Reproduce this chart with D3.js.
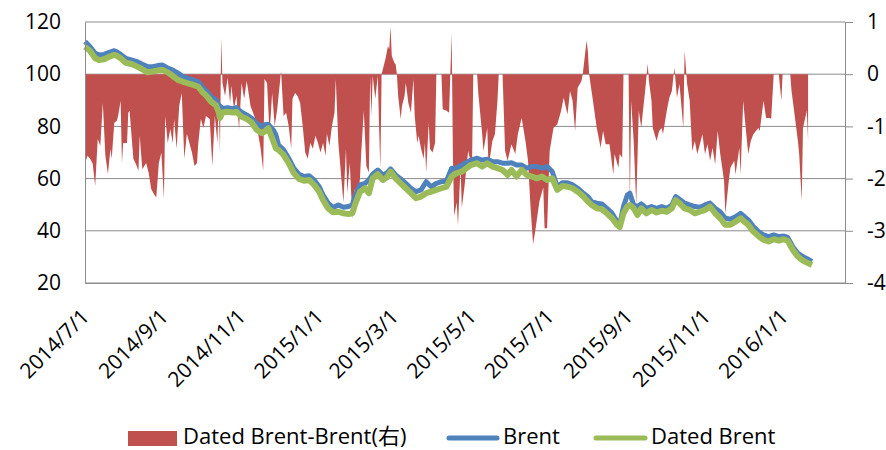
<!DOCTYPE html>
<html>
<head>
<meta charset="utf-8">
<script src="https://cdn.jsdelivr.net/npm/d3@7"></script>
<style>
  body { margin: 0; background: #fff; }
  text { font-family: "Open Sans", "Noto Sans CJK SC", sans-serif; fill: #000; }
</style>
</head>
<body>
<svg></svg>
<script>
// ================================ DATA ================================
var lineDates = [
  "2014-07-01","2014-07-05","2014-07-09","2014-07-12","2014-07-16","2014-07-20","2014-07-24","2014-07-26","2014-07-29",
  "2014-08-02","2014-08-07","2014-08-11","2014-08-15","2014-08-19","2014-08-23","2014-08-27","2014-08-31",
  "2014-09-04","2014-09-08","2014-09-12","2014-09-16","2014-09-20","2014-09-24","2014-09-28",
  "2014-10-01","2014-10-05","2014-10-08","2014-10-12","2014-10-14","2014-10-15","2014-10-17","2014-10-21","2014-10-25","2014-10-28",
  "2014-11-01","2014-11-05","2014-11-09","2014-11-13","2014-11-17","2014-11-19","2014-11-22","2014-11-26","2014-11-28","2014-11-30",
  "2014-12-04","2014-12-08","2014-12-12","2014-12-16","2014-12-20","2014-12-24","2014-12-28",
  "2015-01-01","2015-01-04","2015-01-08","2015-01-12","2015-01-16","2015-01-20","2015-01-24","2015-01-27","2015-01-29",
  "2015-02-02","2015-02-06","2015-02-09","2015-02-12","2015-02-16","2015-02-20","2015-02-23","2015-02-26",
  "2015-03-02","2015-03-06","2015-03-10","2015-03-14","2015-03-18","2015-03-22","2015-03-26","2015-03-30",
  "2015-04-03","2015-04-07","2015-04-11","2015-04-15","2015-04-19","2015-04-23","2015-04-30",
  "2015-05-05","2015-05-09","2015-05-13","2015-05-17","2015-05-21","2015-05-25","2015-05-29",
  "2015-06-01","2015-06-05","2015-06-09","2015-06-13","2015-06-17","2015-06-21","2015-06-25","2015-06-29",
  "2015-07-03","2015-07-07","2015-07-11","2015-07-15","2015-07-19","2015-07-23","2015-07-27","2015-07-31",
  "2015-08-03","2015-08-07","2015-08-11","2015-08-15","2015-08-19","2015-08-23","2015-08-25","2015-08-28","2015-08-31",
  "2015-09-02","2015-09-05","2015-09-08","2015-09-11","2015-09-15","2015-09-19","2015-09-23","2015-09-27",
  "2015-10-01","2015-10-05","2015-10-08","2015-10-11","2015-10-15","2015-10-19","2015-10-23","2015-10-27","2015-10-31",
  "2015-11-04","2015-11-08","2015-11-12","2015-11-16","2015-11-20","2015-11-24","2015-11-28",
  "2015-12-01","2015-12-04","2015-12-08","2015-12-12","2015-12-16","2015-12-20","2015-12-24","2015-12-28",
  "2016-01-01","2016-01-04","2016-01-08","2016-01-12","2016-01-16","2016-01-20","2016-01-23"
];

var brent = [
  112.5,110.5,108.0,107.4,107.6,108.4,109.0,108.6,107.6,
  106.1,105.4,104.8,103.8,102.9,102.9,103.3,103.5,
  102.3,101.6,100.4,99.1,98.4,97.8,97.1,
  95.2,93.3,91.4,90.1,88.2,87.8,86.9,87.2,86.7,87.2,
  85.4,84.4,83.1,81.2,79.9,80.6,80.8,78.6,76.7,72.9,
  71.0,67.8,64.0,61.7,60.8,61.1,59.5,
  56.9,53.7,50.6,48.9,49.9,49.0,49.3,49.9,53.1,
  57.6,58.2,59.5,61.7,63.3,61.4,62.1,63.7,
  61.4,59.9,58.2,56.3,55.0,55.7,58.8,56.9,
  58.2,58.8,59.1,64.0,64.0,65.2,67.1,
  67.8,67.1,67.4,66.5,66.5,65.9,65.9,
  66.1,65.2,65.2,64.0,64.6,64.6,64.0,64.6,
  62.7,56.9,58.4,58.4,57.6,56.3,54.6,53.1,
  51.2,50.6,50.3,48.6,46.7,43.5,42.3,49.3,53.7,
  54.4,49.9,49.3,50.3,48.6,49.3,48.6,49.3,
  48.6,49.9,53.1,52.1,50.6,49.9,49.3,49.0,49.9,
  50.6,48.6,47.3,44.8,44.4,45.4,46.7,
  45.4,44.2,41.6,39.7,38.4,37.8,38.4,37.8,
  38.0,37.5,33.9,31.4,30.1,29.1,28.2
];

var datedBrent = [
  110.5,108.9,106.1,105.4,105.7,106.7,107.4,107.1,106.1,
  104.4,103.8,102.9,101.9,100.7,101.0,101.4,101.6,
  100.7,99.3,97.8,97.1,96.5,95.9,95.2,
  93.3,91.4,89.5,88.0,85.6,83.2,85.3,85.6,85.3,85.6,
  83.7,82.9,81.4,78.6,77.4,78.0,79.3,74.2,71.6,71.0,
  69.1,65.9,62.1,59.9,59.2,59.5,57.6,
  55.0,51.8,48.6,47.1,47.3,46.7,46.4,46.7,49.9,
  55.0,56.3,54.4,60.1,61.7,59.5,60.4,62.7,
  60.1,58.2,56.3,54.4,52.5,53.1,54.4,55.0,
  55.7,56.3,56.9,60.8,62.1,62.7,65.2,
  65.9,64.6,65.9,64.6,64.0,63.3,61.4,
  63.3,60.8,63.3,61.4,60.8,60.1,60.8,59.5,
  60.1,55.7,57.2,56.9,56.3,55.0,53.4,51.2,
  49.9,48.6,48.3,46.7,44.8,42.3,41.4,46.7,49.3,
  49.9,48.6,46.1,48.6,46.7,48.0,47.0,47.7,
  47.3,48.6,51.8,50.6,48.6,48.0,46.7,47.3,48.0,
  49.3,46.7,44.8,42.3,42.3,43.5,44.8,
  43.5,42.3,39.7,38.0,36.5,35.9,36.8,36.2,
  36.8,36.2,32.7,30.1,28.6,27.6,26.9
];

// Dated Brent - Brent (right axis)
var spreadDates = [
  "2014-07-01","2014-07-03","2014-07-05","2014-07-07","2014-07-09","2014-07-11","2014-07-13","2014-07-15","2014-07-17","2014-07-19","2014-07-21","2014-07-22","2014-07-24","2014-07-26","2014-07-27","2014-07-29","2014-07-30","2014-07-31",
  "2014-08-03","2014-08-04","2014-08-05","2014-08-08","2014-08-10","2014-08-12","2014-08-13","2014-08-15","2014-08-18","2014-08-20","2014-08-22","2014-08-24","2014-08-26","2014-08-28","2014-08-30",
  "2014-09-01","2014-09-02","2014-09-04","2014-09-06","2014-09-08","2014-09-09","2014-09-11","2014-09-13","2014-09-15","2014-09-17","2014-09-19","2014-09-21","2014-09-23","2014-09-25","2014-09-27","2014-09-28","2014-09-30",
  "2014-10-02","2014-10-04","2014-10-07","2014-10-09","2014-10-11","2014-10-13","2014-10-14","2014-10-15","2014-10-16","2014-10-17","2014-10-19","2014-10-21","2014-10-23","2014-10-24","2014-10-26","2014-10-28","2014-10-30",
  "2014-11-01","2014-11-03","2014-11-05","2014-11-06","2014-11-08","2014-11-11","2014-11-14","2014-11-16","2014-11-18","2014-11-19","2014-11-21","2014-11-23","2014-11-25","2014-11-27","2014-11-29",
  "2014-12-02","2014-12-04","2014-12-06","2014-12-08","2014-12-10","2014-12-11","2014-12-13","2014-12-15","2014-12-17","2014-12-19","2014-12-21","2014-12-23","2014-12-25","2014-12-27","2014-12-29","2014-12-31",
  "2015-01-02","2015-01-04","2015-01-06","2015-01-07","2015-01-09","2015-01-11","2015-01-13","2015-01-14","2015-01-16","2015-01-18","2015-01-20","2015-01-22","2015-01-23","2015-01-25","2015-01-27","2015-01-29","2015-01-31",
  "2015-02-02","2015-02-03","2015-02-05","2015-02-07","2015-02-09","2015-02-10","2015-02-11","2015-02-12","2015-02-14","2015-02-16","2015-02-17","2015-02-18","2015-02-19","2015-02-20","2015-02-22","2015-02-24","2015-02-25","2015-02-26","2015-02-27",
  "2015-03-01","2015-03-02","2015-03-03","2015-03-04","2015-03-06","2015-03-07","2015-03-09","2015-03-10","2015-03-12","2015-03-14","2015-03-16","2015-03-17","2015-03-19","2015-03-20","2015-03-22","2015-03-24","2015-03-25","2015-03-26","2015-03-28","2015-03-29","2015-03-31",
  "2015-04-02","2015-04-03","2015-04-07","2015-04-08","2015-04-11","2015-04-13","2015-04-15","2015-04-16","2015-04-17","2015-04-19","2015-04-20","2015-04-22","2015-04-23","2015-04-25","2015-04-28",
  "2015-05-01","2015-05-02","2015-05-05","2015-05-06","2015-05-09","2015-05-10","2015-05-13","2015-05-14","2015-05-17","2015-05-19","2015-05-21","2015-05-22","2015-05-25","2015-05-27","2015-05-29",
  "2015-06-01","2015-06-04","2015-06-06","2015-06-09","2015-06-12","2015-06-14","2015-06-16","2015-06-18","2015-06-20","2015-06-23","2015-06-26","2015-06-27","2015-06-29",
  "2015-07-01","2015-07-04","2015-07-07","2015-07-10","2015-07-12","2015-07-15","2015-07-17","2015-07-19","2015-07-21","2015-07-23","2015-07-26","2015-07-27","2015-07-30","2015-07-31",
  "2015-08-01","2015-08-04","2015-08-07","2015-08-09","2015-08-10","2015-08-12","2015-08-14","2015-08-17","2015-08-20","2015-08-21","2015-08-24","2015-08-25","2015-08-27","2015-08-28",
  "2015-09-01","2015-09-02","2015-09-03","2015-09-05","2015-09-07","2015-09-09","2015-09-11","2015-09-12","2015-09-14","2015-09-16","2015-09-17","2015-09-19","2015-09-20","2015-09-23","2015-09-25","2015-09-27","2015-09-28",
  "2015-10-01","2015-10-03","2015-10-05","2015-10-07","2015-10-09","2015-10-11","2015-10-14","2015-10-15","2015-10-17","2015-10-19","2015-10-21","2015-10-23","2015-10-25","2015-10-27","2015-10-29","2015-10-31",
  "2015-11-02","2015-11-04","2015-11-06","2015-11-08","2015-11-10","2015-11-12","2015-11-15","2015-11-16","2015-11-19","2015-11-20","2015-11-23","2015-11-24","2015-11-27","2015-11-28","2015-11-30",
  "2015-12-02","2015-12-04","2015-12-06","2015-12-08","2015-12-10","2015-12-12","2015-12-13","2015-12-16","2015-12-18","2015-12-21","2015-12-22","2015-12-24","2015-12-28","2015-12-30","2015-12-31",
  "2016-01-06","2016-01-07","2016-01-09","2016-01-12","2016-01-13","2016-01-15","2016-01-16","2016-01-19","2016-01-20"
];

var spread = [
  -1.7,-1.56,-1.62,-1.71,-2.14,-1.24,-1.37,-0.55,-1.56,-1.91,-1.43,-1.62,-0.93,-0.89,-0.8,-0.51,-1.7,-1.32,
  -1.32,-0.74,-0.7,-1.62,-1.72,-1.85,-1.18,-1.82,-1.7,-1.89,-2.2,-2.29,-2.36,-1.7,-1.5,
  -2.39,-0.8,-1.32,-1.05,-1.32,-0.86,-1.43,-0.61,-0.36,-1.62,-1.14,-1.32,-1.5,-1.76,-1.7,-1.32,-0.86,
  -1.03,-0.8,-0.86,-1.76,-0.8,-1.32,-0.47,-1.5,0.7,-0.17,-0.42,-0.07,-0.55,-0.22,-0.66,-0.42,-1.05,
  -0.17,-0.47,-0.13,-0.28,-0.61,-0.8,-1.14,-1.43,-1.85,-0.09,-0.17,-1.14,-0.36,-0.99,-0.67,
  0.06,-0.8,-0.74,-0.99,-1.43,-0.47,-0.36,-0.42,-0.55,-0.99,-1.5,-1.62,-1.32,-1.43,-1.18,-1.32,
  -1.5,-1.32,-1.56,-1.14,-1.37,-0.99,-0.74,-0.09,-1.32,-1.89,-2.46,-1.43,-2.27,-1.7,-2.77,-2.2,-2.46,
  -2.0,-1.5,-0.7,-1.76,-1.89,-0.03,-0.8,-0.03,-0.47,-0.03,-0.99,-1.82,0,0.1,0.29,0.54,0.48,0.92,0.35,
  0.22,0.19,0,-0.42,-0.86,-0.61,-0.42,-0.17,-0.55,-0.74,-0.09,-0.8,-1.32,-1.18,-1.43,-1.62,-1.32,-1.89,-0.93,-1.43,-1.5,
  -1.32,0,0,-0.67,-0.7,-0.74,0.79,-1.56,-2.71,-2.46,-2.9,-1.76,-2.56,-2.17,-1.47,
  -1.79,0,0,-0.38,-1.15,-1.47,-1.03,-1.79,-1.28,-1.15,-0.51,0,0,-1.47,-1.66,
  -1.34,-1.53,-1.15,-0.84,-1.28,-1.66,-2.56,-3.26,-2.95,-2.43,-2.17,-2.95,-2.95,
  -1.47,-1.03,-0.96,-0.7,-0.45,-0.77,-0.32,-0.51,-1.09,-0.26,-0.13,0,0.64,0.45,
  0,-0.51,-1.03,-1.28,-1.41,-1.09,-1.34,-1.34,-1.92,-1.53,-1.79,-1.53,-1.6,0,
  0,-2.5,-0.51,-1.28,-2.5,-0.7,-1.03,-0.77,-0.32,0.2,-0.13,-0.51,-1.03,-1.28,-1.09,-1.03,-1.15,
  -0.7,-0.45,-0.32,0.13,-0.45,-0.19,-1.03,0.45,-0.19,-0.51,-1.47,-1.28,-1.53,-1.34,-1.15,-1.53,
  -1.34,-1.66,-1.41,-1.73,-1.09,-1.53,-2.04,-2.68,-1.98,-1.79,-1.66,-1.92,-1.41,-1.92,-0.51,
  -1.03,-1.53,-1.28,-1.15,-1.09,-1.03,-1.09,-0.51,-0.84,-0.84,-0.86,0,0,-0.51,0,
  0,-0.32,-0.7,-1.28,-1.53,-2.43,-1.03,-0.7,-1.28
];

var xTickLabels = ["2014/7/1","2014/9/1","2014/11/1","2015/1/1","2015/3/1","2015/5/1","2015/7/1","2015/9/1","2015/11/1","2016/1/1"];
var leftTicks = [20, 40, 60, 80, 100, 120];
var rightTicks = [-4, -3, -2, -1, 0, 1];
var legendLabels = ["Dated Brent-Brent(右)", "Brent", "Dated Brent"];
// ======================================================================

var W = 886, H = 450;
var margin = {left: 85, right: 41, top: 22, bottom: 167};
var width = W - margin.left - margin.right;   // 760
var height = H - margin.top - margin.bottom;  // 261

var red = "#C0504D", blue = "#4F81BD", green = "#9BBB59", grid = "#8c8c8c";

var parse = d3.timeParse("%Y-%m-%d");
var parseTick = d3.timeParse("%Y/%m/%d");

var lineData = lineDates.map(function(d, i) {
  return {date: parse(d), brent: brent[i], dated: datedBrent[i]};
});
var spreadData = spreadDates.map(function(d, i) {
  return {date: parse(d), v: spread[i]};
});

var xs = d3.scaleTime().domain([parse("2014-07-01"), parse("2016-02-18")]).range([0, width]);
var ys = d3.scaleLinear().domain([20, 120]).range([height, 0]);
var ys2 = d3.scaleLinear().domain([-4, 1]).range([height, 0]);

var svg = d3.select("svg").attr("width", W).attr("height", H);
var g = svg.append("g").attr("transform", "translate(" + margin.left + "," + margin.top + ")");

// ================== GRIDLINES ==================
g.append("g")
  .selectAll("line")
  .data(leftTicks)
  .join("line")
  .attr("x1", 0).attr("x2", width)
  .attr("y1", function(d) { return ys(d); })
  .attr("y2", function(d) { return ys(d); })
  .attr("stroke", grid)
  .attr("stroke-width", 1);

// ================== AREA (right axis) ==================
var area = d3.area()
  .x(function(d) { return xs(d.date); })
  .y0(ys2(0))
  .y1(function(d) { return ys2(d.v); });

g.append("path")
  .datum(spreadData)
  .attr("fill", red)
  .attr("d", area);

// ================== LINES ==================
var lineBrent = d3.line()
  .x(function(d) { return xs(d.date); })
  .y(function(d) { return ys(d.brent); });

var lineDated = d3.line()
  .x(function(d) { return xs(d.date); })
  .y(function(d) { return ys(d.dated); });

g.append("path")
  .datum(lineData)
  .attr("fill", "none")
  .attr("stroke", blue)
  .attr("stroke-width", 5)
  .attr("stroke-linejoin", "round")
  .attr("d", lineBrent);

g.append("path")
  .datum(lineData)
  .attr("fill", "none")
  .attr("stroke", green)
  .attr("stroke-width", 6)
  .attr("stroke-linejoin", "round")
  .attr("d", lineDated);

// ================== AXES ==================
var leftAxis = g.append("g")
  .call(d3.axisLeft(ys).tickValues(leftTicks).tickSize(0).tickPadding(24));
leftAxis.select(".domain").attr("stroke", grid);
leftAxis.selectAll("text").style("font-size", "21px");

var rightAxis = g.append("g")
  .attr("transform", "translate(" + width + ",0)")
  .call(d3.axisRight(ys2).tickValues(rightTicks).tickSize(8).tickPadding(14)
    .tickFormat(function(d) { return String(d); }));
rightAxis.select(".domain").attr("stroke", grid);
rightAxis.selectAll("line").attr("stroke", grid);
rightAxis.selectAll("text").style("font-size", "21px");

var bottomAxis = g.append("g")
  .attr("transform", "translate(0," + height + ")")
  .call(d3.axisBottom(xs)
    .tickValues(xTickLabels.map(function(s) { return parseTick(s); }))
    .tickFormat(d3.timeFormat("%Y/%-m/%-d"))
    .tickSize(0));
bottomAxis.select(".domain").attr("stroke", grid);
bottomAxis.selectAll("text")
  .style("font-size", "21px")
  .attr("x", 0).attr("y", 0).attr("dy", 0)
  .attr("text-anchor", "end")
  .attr("transform", "translate(5,35) rotate(-45)");

// ================== LEGEND ==================
var leg = svg.append("g");
leg.append("rect")
  .attr("x", 128).attr("y", 431).attr("width", 49).attr("height", 15)
  .attr("fill", red);
leg.append("text").attr("x", 183).attr("y", 444).style("font-size", "22px").text(legendLabels[0]);

leg.append("line")
  .attr("x1", 449).attr("x2", 497).attr("y1", 438).attr("y2", 438)
  .attr("stroke", blue).attr("stroke-width", 5).attr("stroke-linecap", "round");
leg.append("text").attr("x", 503).attr("y", 444).style("font-size", "22px").text(legendLabels[1]);

leg.append("line")
  .attr("x1", 596).attr("x2", 645).attr("y1", 438).attr("y2", 438)
  .attr("stroke", green).attr("stroke-width", 5).attr("stroke-linecap", "round");
leg.append("text").attr("x", 651).attr("y", 444).style("font-size", "22px").text(legendLabels[2]);
</script>
</body>
</html>
